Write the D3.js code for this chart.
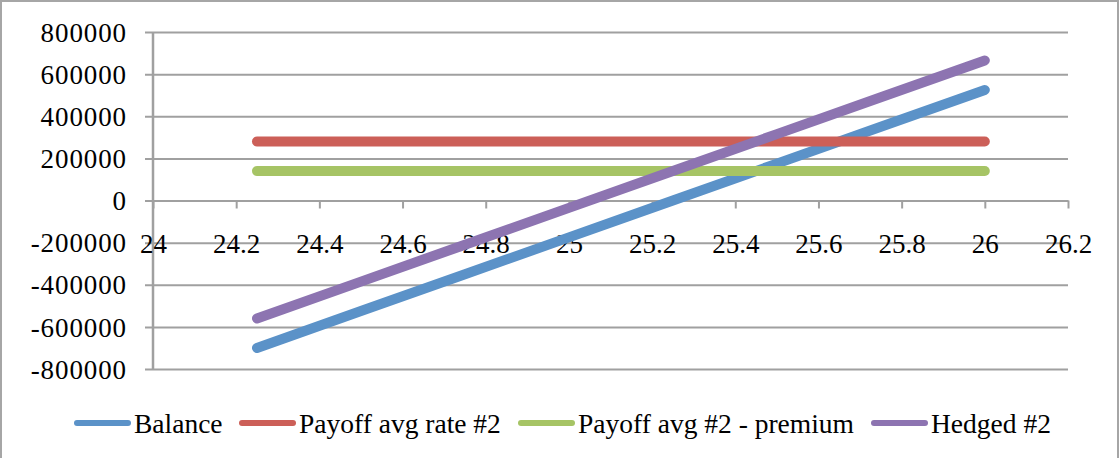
<!DOCTYPE html>
<html>
<head>
<meta charset="utf-8">
<script src="https://cdn.jsdelivr.net/npm/d3@7"></script>
<style>
  html, body { margin: 0; padding: 0; background: #fff; }
  svg { display: block; }
  svg text { font-family: "Liberation Serif", "Times New Roman", serif; fill: #000; }
</style>
</head>
<body>
<svg id="chart" width="1120" height="458"></svg>
<script>
// ---- Data ----
const xValues = [24.25, 24.5, 24.75, 25, 25.25, 25.5, 25.75, 26];
const balance = [-700000, -525000, -350000, -175000, 0, 175000, 350000, 525000];
const payoffAvgRate = [280000, 280000, 280000, 280000, 280000, 280000, 280000, 280000];
const payoffMinusPremium = [140000, 140000, 140000, 140000, 140000, 140000, 140000, 140000];
const hedged = [-560000, -385000, -210000, -35000, 140000, 315000, 490000, 665000];
const seriesNames = ["Balance", "Payoff avg rate #2", "Payoff avg #2 - premium", "Hedged #2"];
const xTicks = [24, 24.2, 24.4, 24.6, 24.8, 25, 25.2, 25.4, 25.6, 25.8, 26, 26.2];
const yTicks = [-800000, -600000, -400000, -200000, 0, 200000, 400000, 600000, 800000];

const colors = ["#5b92c8", "#cc5f58", "#a6c465", "#8d74b1"];
const seriesValues = [balance, payoffAvgRate, payoffMinusPremium, hedged];

(function () {
const svg = d3.select("#chart");
const FONT = '"Liberation Serif", "Times New Roman", serif';

// outer border
svg.append("rect")
  .attr("x", 1).attr("y", 1).attr("width", 1117).attr("height", 470)
  .attr("fill", "none").attr("stroke", "#a6a6a6").attr("stroke-width", 2);

const pLeft = 153, pRight = 1068, pTop = 32, pBottom = 369;
const x = d3.scaleLinear().domain([24, 26.2]).range([pLeft, pRight]);
const y = d3.scaleLinear().domain([-800000, 800000]).range([pBottom, pTop]);

const gridColor = "#a0a0a0";

// gridlines + y ticks
const yAxis = d3.axisLeft(y).tickValues(yTicks).tickSize(pRight - pLeft + 8)
  .tickFormat(d => String(d));
const gy = svg.append("g").attr("transform", `translate(${pRight},0)`).call(yAxis)
  .attr("font-family", FONT);
gy.select(".domain").remove();
gy.selectAll(".tick line").attr("stroke", gridColor).attr("stroke-width", 2);
gy.selectAll(".tick text")
  .attr("font-size", 27)
  .attr("letter-spacing", "0.9px")
  .attr("x", -(pRight - pLeft) - 26)
  .attr("dy", "0.34em")
  .attr("text-anchor", "end");

// vertical axis line
svg.append("line")
  .attr("x1", pLeft).attr("x2", pLeft).attr("y1", y(800000)).attr("y2", y(-800000))
  .attr("stroke", gridColor).attr("stroke-width", 2.5);

// x axis at y=0
const xAxis = d3.axisBottom(x).tickValues(xTicks).tickSize(8).tickFormat(d => String(d)).tickSizeOuter(0);
const gx = svg.append("g").attr("transform", `translate(0,${y(0)})`).call(xAxis)
  .attr("font-family", FONT);
gx.select(".domain").attr("stroke", gridColor).attr("stroke-width", 2);
gx.selectAll(".tick line").attr("stroke", gridColor).attr("stroke-width", 2);
gx.selectAll(".tick text")
  .attr("font-size", 27)
  .attr("y", 52)
  .attr("dy", 0);

// series lines
const line = d3.line().x((d, i) => x(xValues[i])).y(d => y(d));
seriesValues.forEach((vals, k) => {
  svg.append("path")
    .datum(vals)
    .attr("d", line)
    .attr("fill", "none")
    .attr("stroke", colors[k])
    .attr("stroke-width", 10)
    .attr("stroke-linecap", "round")
    .attr("stroke-linejoin", "round");
});

// legend
const legendX = [77, 242, 521, 874];
const legendY = 423;
seriesNames.forEach((name, k) => {
  const g = svg.append("g");
  g.append("line")
    .attr("x1", legendX[k]).attr("x2", legendX[k] + 51)
    .attr("y1", legendY).attr("y2", legendY)
    .attr("stroke", colors[k]).attr("stroke-width", 6).attr("stroke-linecap", "round");
  g.append("text")
    .attr("x", legendX[k] + 57).attr("y", legendY + 10)
    .attr("font-family", FONT)
    .attr("font-size", 27.5)
    .text(name);
});
})();
</script>
</body>
</html>
